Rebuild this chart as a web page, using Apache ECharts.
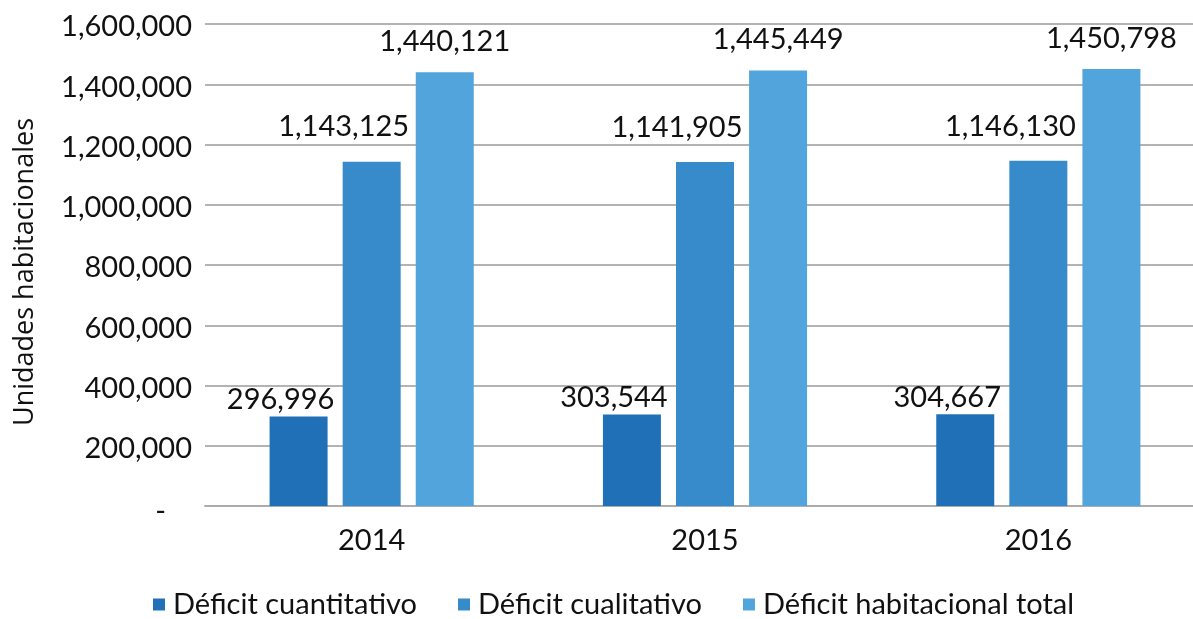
<!DOCTYPE html>
<html>
<head>
<meta charset="utf-8">
<script src="https://cdn.jsdelivr.net/npm/echarts@6/dist/echarts.min.js"></script>
<style>
html,body{margin:0;padding:0;background:#fff;overflow:hidden;}
#main{width:1220px;height:619px;}
</style>
</head>
<body>
<div id="main"></div>
<script>
const categories = ['2014', '2015', '2016'];
const seriesNames = ['Déficit cuantitativo', 'Déficit cualitativo', 'Déficit habitacional total'];
const cuantitativo = [296996, 303544, 304667];
const cualitativo = [1143125, 1141905, 1146130];
const total = [1440121, 1445449, 1450798];
const yAxisTitle = 'Unidades habitacionales';

const colors = ['#1f70b7', '#388bca', '#52a5dc'];
const labelOffsets = [[-18, 4], [-28, -14], [0, -10]];
const fmt = v => v.toLocaleString('en-US');

const chart = echarts.init(document.getElementById('main'));
const dataSets = [cuantitativo, cualitativo, total];
chart.setOption({
  animation: false,
  textStyle: { fontFamily: 'Lato' },
  grid: { left: 205, width: 1000, top: 24, bottom: 113, containLabel: false, outerBoundsMode: 'none' },
  legend: {
    left: 153, top: 590, padding: 0,
    itemWidth: 12, itemHeight: 12, itemGap: 41,
    icon: 'rect',
    textStyle: { fontFamily: 'Lato', fontSize: 29, color: '#111', padding: [0, 0, 0, 3] },
    data: seriesNames
  },
  xAxis: {
    type: 'category',
    data: categories,
    axisLine: { lineStyle: { color: '#acacac', width: 2 } },
    axisTick: { show: false },
    axisLabel: { fontFamily: 'Lato', fontSize: 29, color: '#111', margin: 20 }
  },
  yAxis: {
    type: 'value',
    min: 0, max: 1600000, interval: 200000,
    name: yAxisTitle,
    nameLocation: 'middle',
    nameGap: 166,
    nameTextStyle: { fontFamily: 'Open Sans', fontSize: 27, color: '#111', padding: [0, 14, 0, 0] },
    axisLine: { show: false },
    axisTick: { show: false },
    splitLine: { lineStyle: { color: '#9a9a9a', width: 1.5 } },
    axisLabel: {
      fontFamily: 'Lato', fontSize: 29, color: '#111', margin: 13,
      padding: [6, 0, 0, 0],
      formatter: v => v === 0 ? '{z|-}' : fmt(v),
      rich: { z: { fontFamily: 'Lato', fontSize: 29, color: '#111', padding: [6, 26, 0, 0] } }
    }
  },
  series: dataSets.map((d, i) => ({
    name: seriesNames[i],
    type: 'bar',
    data: d,
    barWidth: 58,
    barGap: '26%',
    itemStyle: { color: colors[i] },
    label: {
      show: true,
      position: 'top',
      distance: 6,
      offset: labelOffsets[i],
      fontFamily: 'Lato', fontSize: 29, color: '#111',
      formatter: p => fmt(p.value)
    }
  }))
});
</script>
</body>
</html>
